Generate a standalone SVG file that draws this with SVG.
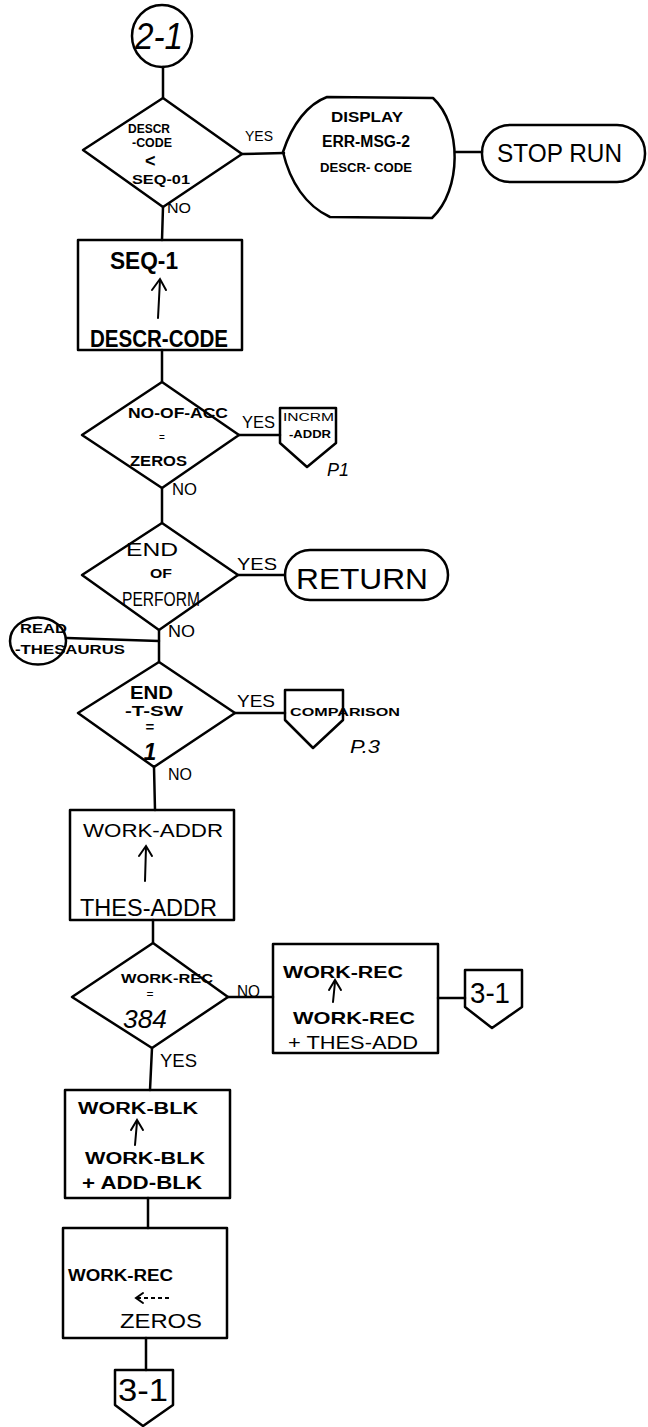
<svg xmlns="http://www.w3.org/2000/svg" width="648" height="1427" viewBox="0 0 648 1427">
<style>
.s{fill:none;stroke:#000;stroke-width:2.5;stroke-linejoin:round;stroke-linecap:round}
.t{font-family:"Liberation Sans",Arial,sans-serif;fill:#000;font-weight:bold}
.h{font-family:"Liberation Sans",Arial,sans-serif;fill:#000}
.a{fill:none;stroke:#000;stroke-width:2;stroke-linecap:round}
</style>
<rect width="648" height="1427" fill="#fff"/>
<g id="connectors" class="s">
<line x1="163" y1="67" x2="163" y2="98"/>
<line x1="242" y1="154" x2="284" y2="153"/>
<line x1="455" y1="152" x2="482" y2="152"/>
<line x1="163" y1="207" x2="162" y2="240"/>
<line x1="162" y1="350" x2="162" y2="382"/>
<line x1="239" y1="435" x2="280" y2="435"/>
<line x1="162" y1="488" x2="162" y2="523"/>
<line x1="238" y1="575" x2="285" y2="575"/>
<line x1="159" y1="630" x2="159" y2="662"/>
<line x1="67" y1="638" x2="159" y2="641"/>
<line x1="235" y1="713" x2="285" y2="713"/>
<line x1="154" y1="767" x2="155" y2="810"/>
<line x1="153" y1="920" x2="153" y2="943"/>
<line x1="228" y1="997" x2="273" y2="997"/>
<line x1="438" y1="998" x2="465" y2="998"/>
<line x1="152" y1="1048" x2="150" y2="1090"/>
<line x1="148" y1="1198" x2="148" y2="1228"/>
<line x1="146" y1="1338" x2="146" y2="1370"/>
</g>
<g id="labels" class="h">
<text x="245" y="141" font-size="15" textLength="28" lengthAdjust="spacingAndGlyphs">YES</text>
<text x="167" y="213" font-size="14" textLength="24" lengthAdjust="spacingAndGlyphs">NO</text>
<text x="242" y="428" font-size="17" textLength="33" lengthAdjust="spacingAndGlyphs">YES</text>
<text x="172" y="495" font-size="16" textLength="25" lengthAdjust="spacingAndGlyphs">NO</text>
<text x="237" y="570" font-size="17" textLength="40" lengthAdjust="spacingAndGlyphs">YES</text>
<text x="168" y="637" font-size="16" textLength="27" lengthAdjust="spacingAndGlyphs">NO</text>
<text x="237" y="707" font-size="17" textLength="38" lengthAdjust="spacingAndGlyphs">YES</text>
<text x="168" y="780" font-size="16" textLength="24" lengthAdjust="spacingAndGlyphs">NO</text>
<text x="237" y="997" font-size="17" textLength="23" lengthAdjust="spacingAndGlyphs">NO</text>
<text x="160" y="1067" font-size="19" textLength="37" lengthAdjust="spacingAndGlyphs">YES</text>
</g>
<g id="start">
<ellipse class="s" cx="162" cy="36" rx="30" ry="31"/>
<text class="h" x="135" y="49" font-size="36" font-style="italic" textLength="48" lengthAdjust="spacingAndGlyphs">2-1</text>
</g>
<g id="d1">
<polygon class="s" points="163,98 242,154 163,207 83,150"/>
<text class="t" x="128" y="133" font-size="12" textLength="42" lengthAdjust="spacingAndGlyphs">DESCR</text>
<text class="t" x="132" y="147" font-size="12" textLength="40" lengthAdjust="spacingAndGlyphs">-CODE</text>
<text class="t" x="145" y="167" font-size="18">&lt;</text>
<text class="t" x="132" y="184" font-size="13" textLength="58" lengthAdjust="spacingAndGlyphs">SEQ-01</text>
</g>
<g id="display">
<path class="s" d="M283,152 C292,124 308,104 327,97 L433,98 C462,125 462,190 432,218 L330,217 C306,206 290,182 283,152 Z"/>
<text class="t" x="367" y="122" font-size="14" text-anchor="middle" textLength="72" lengthAdjust="spacingAndGlyphs">DISPLAY</text>
<text class="t" x="366" y="147" font-size="16" text-anchor="middle" textLength="88" lengthAdjust="spacingAndGlyphs">ERR-MSG-2</text>
<text class="t" x="366" y="172" font-size="12" text-anchor="middle" textLength="92" lengthAdjust="spacingAndGlyphs">DESCR- CODE</text>
</g>
<g id="stop">
<rect class="s" x="482" y="125" width="163" height="57" rx="28"/>
<text class="h" x="497" y="162" font-size="25" textLength="125" lengthAdjust="spacingAndGlyphs">STOP RUN</text>
</g>
<g id="seq1">
<rect class="s" x="78" y="240" width="164" height="110"/>
<text class="t" x="110" y="269" font-size="23" textLength="68" lengthAdjust="spacingAndGlyphs">SEQ-1</text>
<line class="a" x1="158" y1="318" x2="160" y2="280"/>
<polyline class="a" points="152,290 160,279 166,290"/>
<text class="t" x="90" y="347" font-size="24" textLength="138" lengthAdjust="spacingAndGlyphs">DESCR-CODE</text>
</g>
<g id="d2">
<polygon class="s" points="162,382 239,435 162,488 82,435"/>
<text class="t" x="128" y="418" font-size="14" textLength="100" lengthAdjust="spacingAndGlyphs">NO-OF-ACC</text>
<text class="h" x="162" y="441" font-size="10" fill="#888" text-anchor="middle">=</text>
<text class="t" x="130" y="466" font-size="14" textLength="57" lengthAdjust="spacingAndGlyphs">ZEROS</text>
</g>
<g id="incrm">
<path class="s" d="M280,408 L336,408 L336,443 L307,467 L280,443 Z"/>
<text class="h" x="283" y="421" font-size="10" textLength="51" lengthAdjust="spacingAndGlyphs">INCRM</text>
<text class="t" x="289" y="438" font-size="10" textLength="42" lengthAdjust="spacingAndGlyphs">-ADDR</text>
<text class="h" x="327" y="476" font-size="18" font-style="italic">P1</text>
</g>
<g id="d3">
<polygon class="s" points="162,523 238,575 159,630 82,575"/>
<text class="h" x="126" y="556" font-size="18" textLength="52" lengthAdjust="spacingAndGlyphs">END</text>
<text class="t" x="150" y="578" font-size="12" textLength="22" lengthAdjust="spacingAndGlyphs">OF</text>
<text class="h" x="122" y="606" font-size="20" textLength="78" lengthAdjust="spacingAndGlyphs">PERFORM</text>
</g>
<g id="return">
<rect class="s" x="285" y="550" width="163" height="50" rx="25"/>
<text class="h" x="296" y="589" font-size="29" textLength="132" lengthAdjust="spacingAndGlyphs">RETURN</text>
</g>
<g id="read">
<ellipse class="s" cx="38" cy="641" rx="28" ry="23.5"/>
<text class="t" x="20" y="633" font-size="12" textLength="47" lengthAdjust="spacingAndGlyphs">READ</text>
<text class="t" x="15" y="654" font-size="13" textLength="110" lengthAdjust="spacingAndGlyphs">-THESAURUS</text>
</g>
<g id="d4">
<polygon class="s" points="159,662 235,713 154,767 78,713"/>
<text class="t" x="130" y="699" font-size="18" textLength="43" lengthAdjust="spacingAndGlyphs">END</text>
<text class="t" x="125" y="716" font-size="14" textLength="58" lengthAdjust="spacingAndGlyphs">-T-SW</text>
<text class="t" x="150" y="732" font-size="15" text-anchor="middle">=</text>
<text class="t" x="150" y="760" font-size="23" font-style="italic" text-anchor="middle">1</text>
</g>
<g id="comparison">
<path class="s" d="M285,690 L343,690 L343,720 L313,748 L285,720 Z"/>
<text class="t" x="290" y="716" font-size="11" textLength="110" lengthAdjust="spacingAndGlyphs">COMPARISON</text>
<text class="h" x="350" y="753" font-size="18" font-style="italic" textLength="30" lengthAdjust="spacingAndGlyphs">P.3</text>
</g>
<g id="workaddr">
<rect class="s" x="70" y="810" width="164" height="110"/>
<text class="h" x="83" y="837" font-size="18" textLength="140" lengthAdjust="spacingAndGlyphs">WORK-ADDR</text>
<line class="a" x1="145" y1="881" x2="146" y2="847"/>
<polyline class="a" points="139,856 146,846 152,856"/>
<text class="h" x="80" y="916" font-size="23" textLength="137" lengthAdjust="spacingAndGlyphs">THES-ADDR</text>
</g>
<g id="d5">
<polygon class="s" points="153,943 228,997 152,1048 72,997"/>
<text class="t" x="121" y="983" font-size="13" textLength="92" lengthAdjust="spacingAndGlyphs">WORK-REC</text>
<text class="h" x="150" y="998" font-size="12" text-anchor="middle">=</text>
<text class="h" x="123" y="1028" font-size="26" font-style="italic" textLength="44" lengthAdjust="spacingAndGlyphs">384</text>
</g>
<g id="workrec1">
<rect class="s" x="273" y="944" width="165" height="109"/>
<text class="t" x="283" y="978" font-size="16" textLength="120" lengthAdjust="spacingAndGlyphs">WORK-REC</text>
<line class="a" x1="333" y1="1002" x2="335" y2="982"/>
<polyline class="a" points="329,990 335,980 341,990"/>
<text class="t" x="293" y="1024" font-size="17" textLength="122" lengthAdjust="spacingAndGlyphs">WORK-REC</text>
<text class="h" x="288" y="1049" font-size="18" textLength="130" lengthAdjust="spacingAndGlyphs">+ THES-ADD</text>
</g>
<g id="conn31a">
<path class="s" d="M465,970 L522,970 L522,1007 L492,1028 L465,1007 Z"/>
<text class="h" x="470" y="1003" font-size="30" textLength="40" lengthAdjust="spacingAndGlyphs">3-1</text>
</g>
<g id="workblk">
<rect class="s" x="65" y="1090" width="165" height="108"/>
<text class="t" x="78" y="1114" font-size="16" textLength="120" lengthAdjust="spacingAndGlyphs">WORK-BLK</text>
<line class="a" x1="135" y1="1145" x2="137" y2="1122"/>
<polyline class="a" points="131,1130 137,1120 143,1130"/>
<text class="t" x="85" y="1164" font-size="16" textLength="120" lengthAdjust="spacingAndGlyphs">WORK-BLK</text>
<text class="t" x="82" y="1189" font-size="19" textLength="120" lengthAdjust="spacingAndGlyphs">+ ADD-BLK</text>
</g>
<g id="workrec2">
<rect class="s" x="63" y="1228" width="164" height="110"/>
<text class="t" x="68" y="1281" font-size="16" textLength="105" lengthAdjust="spacingAndGlyphs">WORK-REC</text>
<line x1="137" y1="1298" x2="170" y2="1298" stroke="#000" stroke-width="2" stroke-dasharray="4,3"/>
<polyline class="a" points="143,1293 136,1298 143,1303"/>
<text class="h" x="120" y="1328" font-size="20" textLength="82" lengthAdjust="spacingAndGlyphs">ZEROS</text>
</g>
<g id="conn31b">
<path class="s" d="M115,1370 L173,1370 L173,1405 L143,1426 L115,1405 Z"/>
<text class="h" x="118" y="1401" font-size="32" textLength="50" lengthAdjust="spacingAndGlyphs">3-1</text>
</g>
</svg>
